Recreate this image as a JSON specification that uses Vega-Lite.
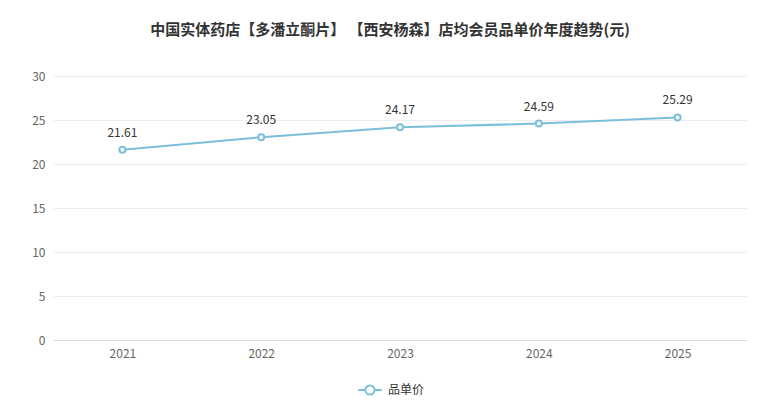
{
  "$schema": "https://vega.github.io/schema/vega-lite/v6.json",
  "width": 694,
  "height": 264,
  "autosize": {"type": "none"},
  "padding": {"left": 53, "top": 76, "right": 33, "bottom": 60},
  "background": "#ffffff",
  "title": {
    "text": "中国实体药店【多潘立酮片】 【西安杨森】店均会员品单价年度趋势(元)",
    "fontSize": 15,
    "fontWeight": "bold",
    "color": "#333333",
    "font": "Noto Sans CJK SC",
    "anchor": "middle",
    "offset": 32,
    "dx": -10
  },
  "config": {
    "view": {"stroke": null},
    "font": "Noto Sans CJK SC"
  },
  "data": {
    "values": [
      {"year": "2021", "value": 21.61, "series": "品单价"},
      {"year": "2022", "value": 23.05, "series": "品单价"},
      {"year": "2023", "value": 24.17, "series": "品单价"},
      {"year": "2024", "value": 24.59, "series": "品单价"},
      {"year": "2025", "value": 25.29, "series": "品单价"}
    ]
  },
  "encoding": {
    "x": {
      "field": "year",
      "type": "ordinal",
      "scale": {"paddingInner": 0, "paddingOuter": 0},
      "axis": {
        "title": null,
        "labelAngle": 0,
        "labelColor": "#666666",
        "labelFontSize": 12,
        "labelPadding": 8,
        "domainColor": "#dddddd",
        "ticks": false,
        "grid": false
      }
    },
    "y": {
      "field": "value",
      "type": "quantitative",
      "scale": {"domain": [0, 30]},
      "axis": {
        "title": null,
        "values": [0, 5, 10, 15, 20, 25, 30],
        "labelColor": "#666666",
        "labelFontSize": 12,
        "labelPadding": 8,
        "domain": false,
        "ticks": false,
        "gridColor": "#eeeeee"
      }
    }
  },
  "layer": [
    {
      "mark": {"type": "line", "color": "#7cbfdc", "strokeWidth": 2},
      "encoding": {}
    },
    {
      "mark": {
        "type": "point",
        "shape": "circle",
        "filled": false,
        "fill": "#ffffff",
        "fillOpacity": 1,
        "strokeWidth": 2,
        "size": 36,
        "opacity": 1
      },
      "encoding": {
        "color": {
          "field": "series",
          "type": "nominal",
          "scale": {"range": ["#7cbfdc"]},
          "legend": {
            "title": null,
            "orient": "none",
            "legendX": 309,
            "legendY": 306,
            "symbolType": "M-1.8,0L-0.7,0M0.7,0L1.8,0M-0.7,0A0.7,0.7 0 1,1 0.7,0A0.7,0.7 0 1,1 -0.7,0",
            "symbolSize": 170,
            "symbolStrokeColor": "#7cbfdc",
            "symbolFillColor": "#ffffff",
            "symbolStrokeWidth": 2,
            "labelOffset": 10,
            "labelFontSize": 12,
            "labelColor": "#333333"
          }
        }
      }
    },
    {
      "mark": {"type": "text", "dy": -17, "fontSize": 12, "color": "#333333"},
      "encoding": {
        "text": {"field": "value", "type": "quantitative", "format": ".2f"}
      }
    }
  ]
}
